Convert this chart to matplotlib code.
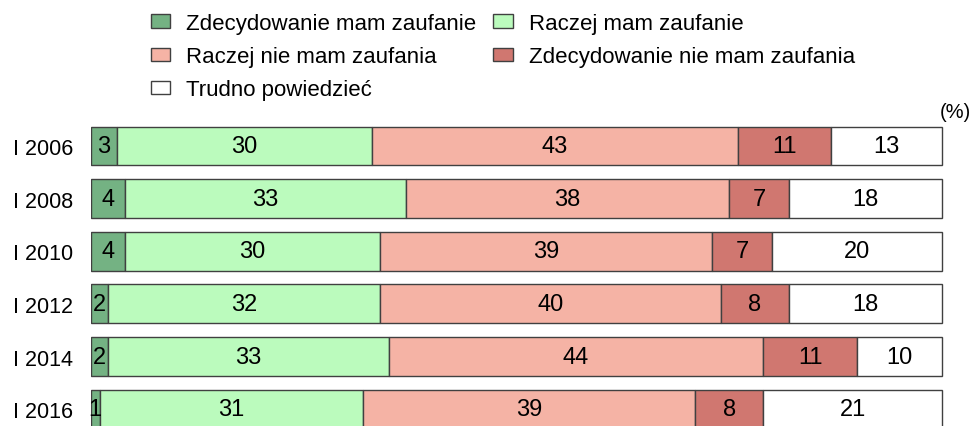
import matplotlib.pyplot as plt
import numpy as np

plt.rcParams['font.family'] = ['Liberation Sans', 'DejaVu Sans']

years = ['I 2006', 'I 2008', 'I 2010', 'I 2012', 'I 2014', 'I 2016']
zdecydowanie_mam = [3, 4, 4, 2, 2, 1]
raczej_mam = [30, 33, 30, 32, 33, 31]
raczej_nie = [43, 38, 39, 40, 44, 39]
zdecydowanie_nie = [11, 7, 7, 8, 11, 8]
trudno = [13, 18, 20, 18, 10, 21]

labels = ['Zdecydowanie mam zaufanie', 'Raczej mam zaufanie',
          'Raczej nie mam zaufania', 'Zdecydowanie nie mam zaufania',
          'Trudno powiedzieć']
colors = ['#74b283', '#bbfbbd', '#f5b3a5', '#d07770', '#ffffff']
series = [zdecydowanie_mam, raczej_mam, raczej_nie, zdecydowanie_nie, trudno]

fig = plt.figure(figsize=(9.72, 4.27), dpi=100)
# axes a bit wider than 100 so the right outline of the bars is not clipped
xmax = 100.4
ax = fig.add_axes([91/972, 0.0, (942-91)/972 * xmax / 100, 1 - 120/427])

y = np.arange(len(years))
left = np.zeros(len(years))
handles = []
for vals, lab, col in zip(series, labels, colors):
    vals = np.array(vals)
    bars = ax.barh(y, vals, left=left, height=0.74, color=col,
                   edgecolor='#404040', linewidth=1, label=lab)
    handles.append(bars)
    for yi, l, v in zip(y, left, vals):
        ax.text(l + v / 2, yi, str(v), ha='center', va='center', fontsize=17)
    left += vals

ax.set_xlim(0, xmax)
ax.set_ylim(5.32, -0.513)
ax.set_yticks(y)
ax.set_yticklabels(years, fontsize=15.5)
ax.tick_params(axis='y', length=0, pad=13)
ax.set_xticks([])
for s in ax.spines.values():
    s.set_visible(False)

order = [0, 2, 4, 1, 3]
fig.legend([handles[i] for i in order], [labels[i] for i in order],
           ncol=2, loc='upper left', bbox_to_anchor=(142/972, 1 - 5/427),
           frameon=False, fontsize=16, handlelength=0.86, handleheight=0.55,
           handletextpad=0.72, columnspacing=0.78, labelspacing=0.55,
           borderaxespad=0)

fig.text(955/972, 1 - 113/427, '(%)', ha='center', va='center', fontsize=14.5)

fig.savefig('out.png', dpi=100)
